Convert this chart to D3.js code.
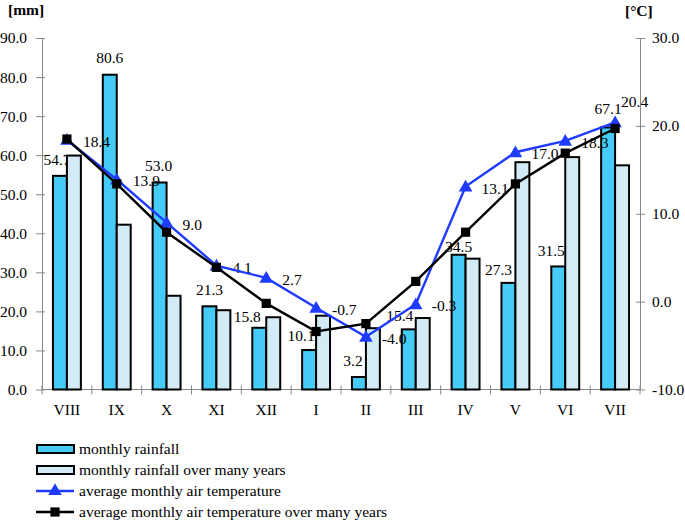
<!DOCTYPE html>
<html>
<head>
<meta charset="utf-8">
<script src="https://cdn.jsdelivr.net/npm/d3@7"></script>
<style>
  body { margin: 0; background: #fff; }
  text { font-family: "Liberation Serif", "Times New Roman", serif; fill: #000; }
</style>
</head>
<body>
<div id="chart"></div>
<script>
// months of the hydrological year
var months = ["VIII", "IX", "X", "XI", "XII", "I", "II", "III", "IV", "V", "VI", "VII"];
// rainfall [mm]
var rainfall = [54.7, 80.6, 53.0, 21.3, 15.8, 10.1, 3.2, 15.4, 34.5, 27.3, 31.5, 67.1];
var rainfallLongTerm = [59.9, 42.2, 24.0, 20.3, 18.5, 18.9, 15.7, 18.3, 33.5, 58.2, 59.5, 57.4];
// air temperature [°C]
var temperature = [18.4, 13.9, 9.0, 4.1, 2.7, -0.7, -4.0, -0.3, 13.1, 17.0, 18.3, 20.4];
var temperatureLongTerm = [18.5, 13.4, 7.9, 3.9, -0.2, -3.4, -2.5, 2.3, 7.9, 13.4, 16.9, 19.7];
var leftTicks = [0, 10, 20, 30, 40, 50, 60, 70, 80, 90];
var rightTicks = [-10, 0, 10, 20, 30];

// hand-moved rainfall labels in the original (px nudges, layout only)
var rainLabelDx = [-3, 0, -1, 0, -12, -8, -6, -9, 0, -10, -7, 0];
var rainLabelDy = [-11, -12, -12, -11, -6, -9, -11, -8, -3, -8, -10, -13];

var W = 685, H = 523;
// plot area edges (window.top is reserved, so prefixed names)
var pLeft = 42, pRight = 640, pTop = 38, pBottom = 389.5;
var darkBlue = "#45cbf6", lightBlue = "#d3ebf5", lineBlue = "#1f3bff";

var svg = d3.select("#chart").append("svg")
    .attr("width", W).attr("height", H);

var x = d3.scaleBand().domain(months).range([pLeft, pRight]);
var sub = d3.scaleBand().domain(["r", "rl"])
    .range([x.bandwidth() * 0.22, x.bandwidth() * 0.78]);
var yL = d3.scaleLinear().domain([0, 90]).range([pBottom, pTop]);
var yR = d3.scaleLinear().domain([-10, 30]).range([pBottom, pTop]);
// plain hyphen for negatives, like the original
var fmt = d3.formatLocale({ decimal: ".", thousands: ",", grouping: [3], currency: ["", ""], minus: "-" })
    .format(".1f");

// left axis
var gL = svg.append("g")
    .attr("transform", "translate(" + pLeft + ",0)")
    .call(d3.axisLeft(yL).tickValues(leftTicks).tickFormat(fmt).tickSize(0));
gL.select(".domain").attr("stroke", "#888");
gL.selectAll(".tick line").attr("x1", -6).attr("x2", 3).attr("stroke", "#888");
gL.selectAll(".tick text").attr("x", -15).style("font-size", "15.5px")
    .style("font-family", "Liberation Serif");

// right axis
var gR = svg.append("g")
    .attr("transform", "translate(" + pRight + ",0)")
    .call(d3.axisRight(yR).tickValues(rightTicks).tickFormat(fmt).tickSize(0));
gR.select(".domain").attr("stroke", "#888");
gR.selectAll(".tick line").attr("x1", -4).attr("x2", 5).attr("stroke", "#888");
gR.selectAll(".tick text").attr("x", 12).style("font-size", "15.5px")
    .style("font-family", "Liberation Serif");

// x axis
svg.append("line")
    .attr("x1", pLeft).attr("x2", pRight)
    .attr("y1", pBottom).attr("y2", pBottom)
    .attr("stroke", "#888");
var bounds = months.map(function (m) { return x(m); }).concat([x.range()[1]]);
svg.append("g").selectAll("line").data(bounds).enter().append("line")
    .attr("x1", function (d) { return d; }).attr("x2", function (d) { return d; })
    .attr("y1", pBottom - 4).attr("y2", pBottom + 5)
    .attr("stroke", "#888");
svg.append("g").selectAll("text").data(months).enter().append("text")
    .attr("x", function (d) { return x(d) + x.bandwidth() / 2; })
    .attr("y", 415)
    .attr("text-anchor", "middle")
    .style("font-size", "15.5px")
    .text(function (d) { return d; });

// axis units
svg.append("text").attr("x", 8).attr("y", 15)
    .style("font-size", "15.5px").style("font-weight", "bold").text("[mm]");
svg.append("text").attr("x", 625).attr("y", 16)
    .style("font-size", "15.5px").style("font-weight", "bold").text("[°C]");

var cx = function (i) { return x(months[i]) + x.bandwidth() / 2; };

// rainfall labels sit under the bars
svg.append("g").selectAll("text").data(rainfall).enter().append("text")
    .attr("x", function (d, i) { return x(months[i]) + sub("r") + sub.bandwidth() / 2 + rainLabelDx[i]; })
    .attr("y", function (d, i) { return yL(d) + rainLabelDy[i]; })
    .attr("text-anchor", "middle")
    .style("font-size", "15.5px")
    .text(fmt);

// bars
var barData = months.map(function (m, i) {
    return [{ k: "r", v: rainfall[i], c: darkBlue }, { k: "rl", v: rainfallLongTerm[i], c: lightBlue }];
});
svg.append("g").selectAll("g").data(barData).enter().append("g")
    .attr("transform", function (d, i) { return "translate(" + x(months[i]) + ",0)"; })
    .selectAll("rect").data(function (d) { return d; }).enter().append("rect")
    .attr("x", function (d) { return sub(d.k); })
    .attr("width", sub.bandwidth())
    .attr("y", function (d) { return yL(d.v); })
    .attr("height", function (d) { return pBottom - yL(d.v); })
    .attr("fill", function (d) { return d.c; })
    .attr("stroke", "#000").attr("stroke-width", 2);

// temperature labels above the bars, below the lines
svg.append("g").selectAll("text").data(temperature).enter().append("text")
    .attr("x", function (d, i) { return cx(i) + (i === 11 ? 6 : 16); })
    .attr("y", function (d, i) { return yR(d) + (i === 11 ? -15.5 : 7); })
    .style("font-size", "15.5px")
    .text(fmt);

// temperature lines
var line = d3.line().x(function (d, i) { return cx(i); }).y(function (d) { return yR(d); });
var tri = d3.symbol().type(d3.symbolTriangle).size(80);
var sq = d3.symbol().type(d3.symbolSquare).size(85);

svg.append("path").datum(temperature).attr("d", line)
    .attr("fill", "none").attr("stroke", lineBlue).attr("stroke-width", 2.4);
svg.append("g").selectAll("path").data(temperature).enter().append("path")
    .attr("d", tri)
    .attr("transform", function (d, i) { return "translate(" + cx(i) + "," + (yR(d) + 1) + ")"; })
    .attr("fill", lineBlue);

svg.append("path").datum(temperatureLongTerm).attr("d", line)
    .attr("fill", "none").attr("stroke", "#000").attr("stroke-width", 2.4);
svg.append("g").selectAll("path").data(temperatureLongTerm).enter().append("path")
    .attr("d", sq)
    .attr("transform", function (d, i) { return "translate(" + cx(i) + "," + yR(d) + ")"; })
    .attr("fill", "#000");

// legend
var legend = [
    { name: "monthly rainfall", type: "bar", c: darkBlue },
    { name: "monthly rainfall over many years", type: "bar", c: lightBlue },
    { name: "average monthly air temperature", type: "line", c: lineBlue, sym: tri },
    { name: "average monthly air temperature over many years", type: "line", c: "#000", sym: sq }
];
var lg = svg.append("g").selectAll("g").data(legend).enter().append("g")
    .attr("transform", function (d, i) { return "translate(36," + (449 + i * 21) + ")"; });
lg.filter(function (d) { return d.type === "bar"; }).append("rect")
    .attr("x", 1).attr("y", -4).attr("width", 37).attr("height", 8)
    .attr("fill", function (d) { return d.c; })
    .attr("stroke", "#000").attr("stroke-width", 2);
lg.filter(function (d) { return d.type === "line"; }).append("line")
    .attr("x1", 0).attr("x2", 38).attr("y1", 0).attr("y2", 0)
    .attr("stroke", function (d) { return d.c; }).attr("stroke-width", 2.4);
lg.filter(function (d) { return d.type === "line"; }).append("path")
    .attr("d", function (d) { return d.sym(); })
    .attr("transform", "translate(19,0)")
    .attr("fill", function (d) { return d.c; });
lg.append("text").attr("x", 43).attr("y", 5)
    .style("font-size", "15.5px")
    .text(function (d) { return d.name; });
</script>
</body>
</html>
